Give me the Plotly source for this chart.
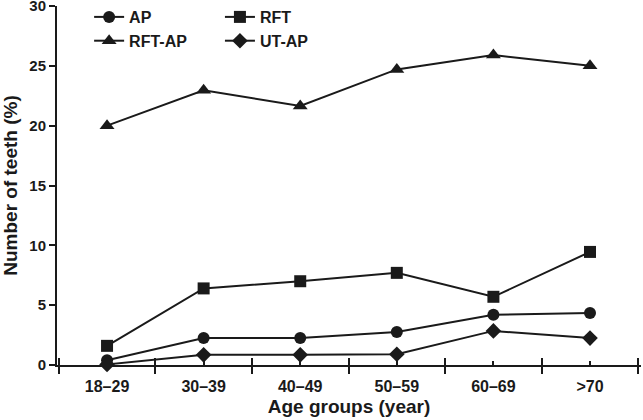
import plotly.graph_objects as go

# ---------------------------------------------------------------------------
# Data
# ---------------------------------------------------------------------------
age_groups = ["18\u201329", "30\u201339", "40\u201349", "50\u201359", "60\u201369", ">70"]

ap = [0.4, 2.25, 2.25, 2.75, 4.2, 4.35]
rft = [1.6, 6.4, 7.0, 7.7, 5.7, 9.45]
rft_ap = [20.0, 22.95, 21.65, 24.7, 25.9, 25.0]
ut_ap = [0.05, 0.85, 0.85, 0.9, 2.85, 2.25]

FONT = "Liberation Sans, Arial, sans-serif"
INK = "#1a1a1a"
X_RANGE = [-0.518, 5.528]

# name, values, marker, size, legend, x axis
series = [
    ("AP", ap, "circle", 12, "legend", "x"),
    ("RFT-AP", rft_ap, "triangle-up", 13, "legend", "x2"),
    ("RFT", rft, "square", 12, "legend2", "x3"),
    ("UT-AP", ut_ap, "diamond", 12, "legend2", "x"),
]

fig = go.Figure()
for name, vals, symbol, size, leg, xax in series:
    fig.add_trace(go.Scatter(
        x=age_groups, y=vals, name=name, mode="lines+markers",
        line={"color": INK, "width": 2},
        marker={"symbol": symbol, "size": size, "color": INK},
        cliponaxis=False, legend=leg, xaxis=xax,
    ))

legend_style = {
    "orientation": "v", "xanchor": "left", "yanchor": "top",
    "yref": "container", "y": 1.0,
    "font": {"family": FONT, "size": 16, "color": INK, "weight": 700},
    "bgcolor": "rgba(0,0,0,0)", "tracegroupgap": 0, "itemwidth": 30,
}

x_tick_font = {"family": FONT, "size": 16, "color": INK, "weight": 700}
y_tick_font = {"family": FONT, "size": 15, "color": INK, "weight": 700}
title_font = {"family": FONT, "size": 19, "color": INK, "weight": 700}

# extra category axes only carry tick marks (crossing boundary ticks, short centre marks)
overlay_axis = {
    "type": "category", "overlaying": "x", "anchor": "y", "range": X_RANGE,
    "automargin": False, "showticklabels": False, "showgrid": False,
    "zeroline": False, "showline": False, "tickwidth": 2, "tickcolor": INK,
}

fig.update_layout(
    width=643, height=420,
    margin={"l": 57, "r": 2, "t": 6, "b": 55, "autoexpand": False},
    paper_bgcolor="white", plot_bgcolor="white",
    font={"family": FONT, "color": INK},
    showlegend=True,
    legend={**legend_style, "x": 0.055},
    legend2={**legend_style, "x": 0.279},
    xaxis={
        "type": "category", "range": X_RANGE, "automargin": False,
        "tickson": "boundaries", "ticks": "outside", "ticklen": 7,
        "tickwidth": 2, "tickcolor": INK, "ticklabelstandoff": 6,
        "showline": True, "linewidth": 2, "linecolor": INK,
        "showgrid": False, "zeroline": False,
        "tickfont": x_tick_font,
        "title": {"text": "Age groups (year)", "standoff": 5, "font": title_font},
    },
    xaxis2={**overlay_axis, "tickson": "boundaries", "ticks": "inside", "ticklen": 7},
    xaxis3={**overlay_axis, "tickson": "labels", "ticks": "inside", "ticklen": 4},
    yaxis={
        "range": [0, 30], "tickvals": [0, 5, 10, 15, 20, 25, 30], "automargin": False,
        "ticks": "outside", "ticklen": 6, "tickwidth": 2, "tickcolor": INK,
        "ticklabeloverflow": "allow",
        "showline": True, "linewidth": 2, "linecolor": INK,
        "showgrid": False, "zeroline": False,
        "tickfont": y_tick_font,
        "title": {"text": "Number of teeth (%)", "standoff": 8, "font": title_font},
    },
)

fig.write_html(
    "out.html",
    config={"displayModeBar": False},
    post_script="document.body.style.margin = '0';",
)
